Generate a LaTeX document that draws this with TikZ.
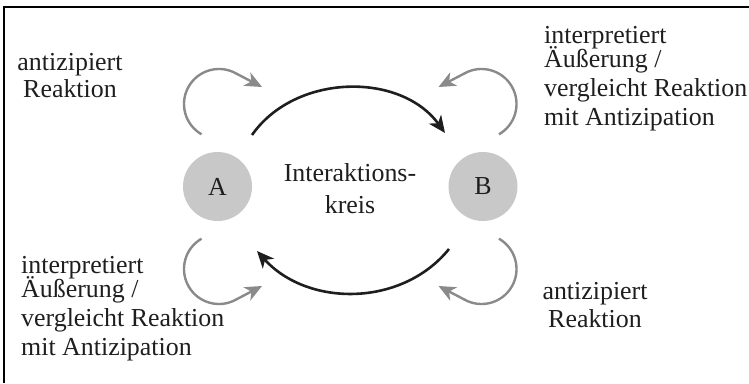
\documentclass[tikz,border=0pt]{standalone}
\usepackage{fontspec}
\setmainfont{Liberation Serif}
\usetikzlibrary{arrows.meta}
\definecolor{circlegray}{HTML}{C8C8C8}
\definecolor{loopgray}{HTML}{8A8A8A}
\definecolor{inkcol}{HTML}{1E1E1E}
\begin{document}
\begin{tikzpicture}[x=1bp,y=1bp,
  txt/.style={font=\fontsize{26}{29}\selectfont, text=inkcol, inner sep=0pt},
  person/.style={circle, fill=circlegray, minimum size=69bp, inner sep=0pt, text=inkcol, font=\fontsize{26}{29}\selectfont},
  flow/.style={line width=2.6bp, draw=inkcol, -{Stealth[length=17bp,width=15bp,inset=5bp]}},
  self/.style={line width=2.4bp, draw=loopgray, -{Stealth[length=17bp,width=15bp,inset=5bp]}},
  frameline/.style={line width=2.4bp, draw=black}
]
\useasboundingbox (0,0) rectangle (749,383);
% frame (cropped at right and bottom)
\coordinate (f1) at (4,0);
\coordinate (f2) at (4,376);
\coordinate (f3) at (749,376);
\draw[frameline] (f1) -- (f2) -- (f3);

% persons
\node[person] (A) at (217.5,196.5) {A};
\node[person] (B) at (483,196.5) {B};

% centre label (anchor base = baseline of last line)
\node[txt, anchor=base, align=center] (ik) at (350,170) {Interaktions-\\[3bp]kreis};

% interaction circle arrows
\coordinate (ts) at (252,248);
\coordinate (te) at (445,250);
\draw[flow] (ts) to[out=55,in=126] (te);
\coordinate (bs) at (449,134);
\coordinate (be) at (257,132);
\draw[flow] (bs) to[out=231,in=-48] (be);

% self loops
\coordinate (tls) at (201.5,248.7);
\coordinate (tle) at (262,296);
\draw[self] (tls) arc[start angle=240,end angle=60,radius=35] -- (tle);
\coordinate (bls) at (201.5,144.3);
\coordinate (ble) at (262,97);
\draw[self] (bls) arc[start angle=120,end angle=300,radius=35] -- (ble);
\coordinate (trs) at (499,248.7);
\coordinate (tre) at (438.5,296);
\draw[self] (trs) arc[start angle=-60,end angle=120,radius=35] -- (tre);
\coordinate (brs) at (499,144.3);
\coordinate (bre) at (438.5,97);
\draw[self] (brs) arc[start angle=60,end angle=-120,radius=35] -- (bre);

% labels (anchor base = baseline of last line)
\node[txt, anchor=base, align=center] (tl) at (70,286) {antizipiert\\[-2bp]Reaktion};
\node[txt, anchor=base west, align=left] (tr) at (544,258) {interpretiert\\[-5bp]Äußerung /\\vergleicht Reaktion\\mit Antizipation};
\node[txt, anchor=base west, align=left] (bl) at (21,28) {interpretiert\\[-5bp]Äußerung /\\vergleicht Reaktion\\mit Antizipation};
\node[txt, anchor=base, align=center] (br) at (595,56) {antizipiert\\[-1bp]Reaktion};
\end{tikzpicture}
\end{document}
